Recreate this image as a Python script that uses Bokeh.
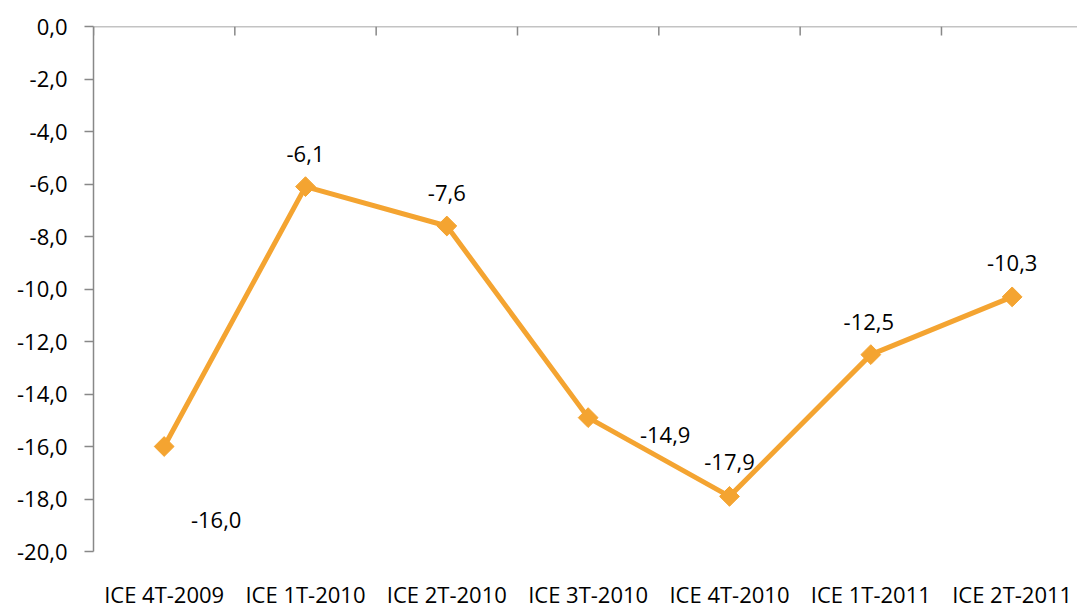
from bokeh.plotting import figure
from bokeh.models import Range1d, FixedTicker, ColumnDataSource, Span
from bokeh.core.properties import value
from bokeh.embed import file_html
from bokeh.resources import INLINE
import numpy as np

# ---- data ----
categories = ["ICE 4T-2009", "ICE 1T-2010", "ICE 2T-2010", "ICE 3T-2010",
              "ICE 4T-2010", "ICE 1T-2011", "ICE 2T-2011"]
values = [-16.0, -6.1, -7.6, -14.9, -17.9, -12.5, -10.3]
y_ticks = [-20, -18, -16, -14, -12, -10, -8, -6, -4, -2, 0]

# label placement (screen px offsets from each point)
label_dx = [52, 0, 0, 77, 0, -2, 0]
label_dy = [73, -33, -33, 17, -34, -33, -34]

FONT = "Open Sans"
FS = "22px"
CAT_FS = "22px"
ORANGE = "#F4A431"
GRAY = "#888888"

W, H = 1077, 608
LEFT, TOP = 93, 26
PX_X = 141.33          # px per category
PX_Y = 26.25           # px per unit of y

n = len(categories)
xs = list(range(n))
ymin, ymax = min(y_ticks), max(y_ticks)
src = ColumnDataSource(dict(
    x=xs, y=values,
    txt=[f"{v:.1f}".replace(".", ",") for v in values],
    dx=label_dx, dy=label_dy,
))
cat_src = ColumnDataSource(dict(x=xs, y=[ymin] * n, txt=categories))

x_end = -0.5 + (W - LEFT) / PX_X
y_start = ymax - (H - TOP) / PX_Y

p = figure(width=W, height=H, output_backend="svg", toolbar_location=None,
           x_range=Range1d(-0.5, x_end), y_range=Range1d(y_start, ymax),
           min_border_left=LEFT, min_border_right=0, min_border_top=TOP,
           min_border_bottom=0, x_axis_location=None)
p.outline_line_color = None
p.grid.visible = False
p.background_fill_color = "white"
p.border_fill_color = "white"

# y axis
ya = p.yaxis[0]
ya.bounds = (ymin, ymax)
ya.ticker = FixedTicker(ticks=y_ticks)
ya.major_label_overrides = {t: f"{t:.1f}".replace(".", ",") for t in y_ticks}
ya.axis_line_color = GRAY
ya.axis_line_width = 1.5
ya.major_tick_line_color = GRAY
ya.major_tick_line_width = 1.5
ya.major_tick_in = 0
ya.major_tick_out = 9
ya.minor_tick_line_color = None
ya.major_label_standoff = 17
ya.major_label_text_font = FONT
ya.major_label_text_font_size = FS
ya.major_label_text_color = "black"

# horizontal category axis crossing at 0 (top), ticks between categories
p.add_layout(Span(location=ymax, dimension="width", line_color=GRAY, line_width=1.5))
bounds_x = [i + 0.5 for i in range(-1, n) if i + 0.5 <= x_end]
p.segment(x0=bounds_x, y0=[ymax] * len(bounds_x), x1=bounds_x,
          y1=[ymax - 9 / PX_Y] * len(bounds_x), line_color=GRAY, line_width=1.5)

# category labels under the plot
p.text("x", "y", text="txt", source=cat_src, y_offset=42,
       text_align="center", text_baseline="middle",
       text_font=value(FONT), text_font_size=CAT_FS, text_color="black")

p.line("x", "y", source=src, line_color=ORANGE, line_width=5)
p.scatter("x", "y", source=src, marker="square", angle=np.pi / 4, size=14,
          fill_color=ORANGE, line_color=ORANGE)
p.text("x", "y", text="txt", source=src, x_offset="dx", y_offset="dy",
       text_align="center", text_baseline="middle",
       text_font=value(FONT), text_font_size=FS, text_color="black")

open("out.html", "w").write(file_html(p, INLINE))
